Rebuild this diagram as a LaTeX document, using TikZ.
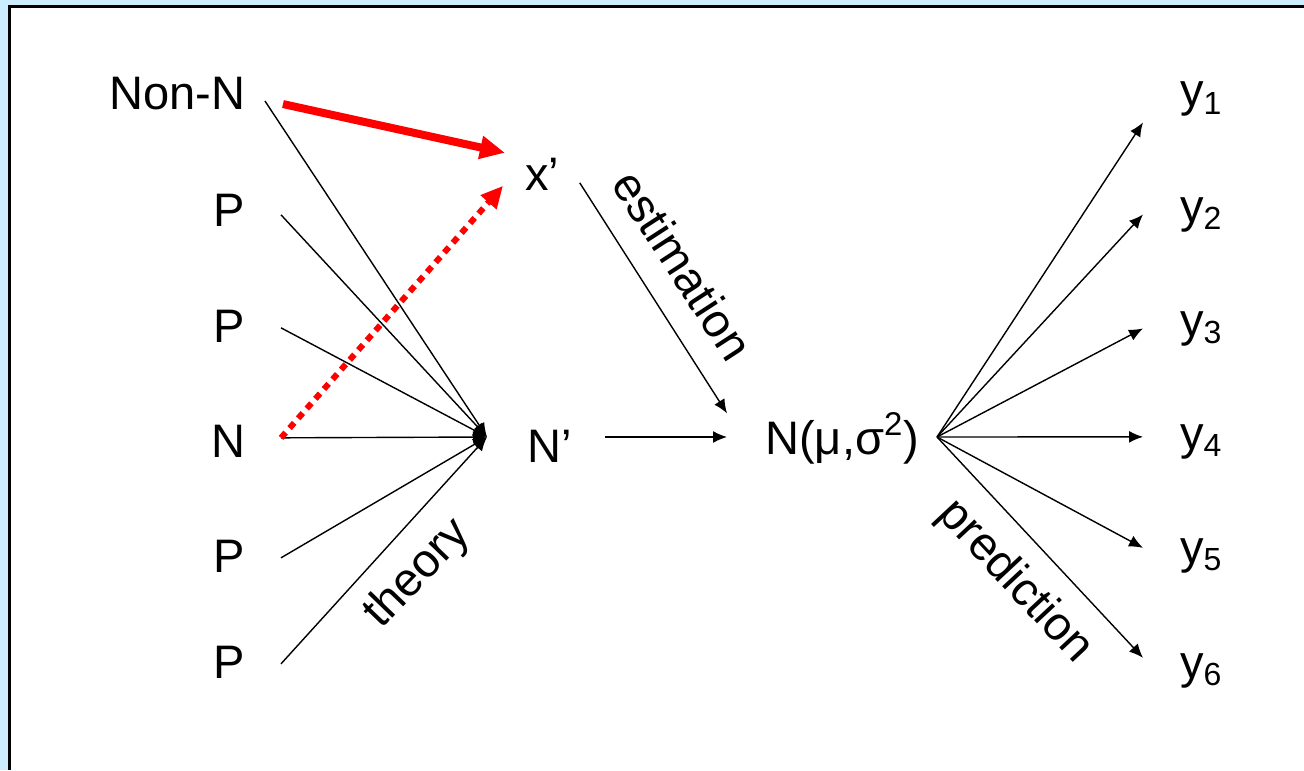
\documentclass[tikz,border=0pt]{standalone}
\usepackage{fontspec}
\setmainfont{Liberation Sans}
\usepackage{xcolor}
\usetikzlibrary{arrows.meta, positioning}

\definecolor{slidebg}{RGB}{204,236,255}
\newcommand{\ysub}[1]{y\raisebox{-0.17em}{\fontsize{16}{16}\selectfont #1}}

\begin{document}
\begin{tikzpicture}[
        x=0.5pt, y=-0.5pt,
        every node/.style={font=\fontsize{23.5}{28}\selectfont},
        src/.style={anchor=base east, inner sep=0pt, outer xsep=18pt},
        obs/.style={anchor=base west, inner sep=0pt, outer xsep=18.5pt},
        mid/.style={anchor=base west, inner sep=0pt},
        tag/.style={inner sep=0pt},
        arrow/.style={-{Latex[length=7pt,width=6pt]}, line width=0.7pt},
        redarrow/.style={-{Triangle[length=12.5pt,width=11pt]}, red, line width=4pt},
        reddots/.style={-{Triangle[length=11pt,width=10pt]}, red, line width=3pt, dash pattern=on 3.5pt off 3pt}
    ]

    % Slide frame
    \useasboundingbox (0,0) rectangle (1304,770);
    \fill[slidebg] (0,0) rectangle (1304,770);
    \fill[white] (9,7) rectangle (1304,770);
    \draw[line width=1.5pt] (9,770) -- (9,7) -- (1304,7);

    % Nodes - sources
    \node[src] (nonn) at (281,110) {Non-N};
    \node[src] (p1) at (281,227) {P};
    \node[src] (p2) at (281,342) {P};
    \node[src] (n) at (281,457) {N};
    \node[src] (p3) at (281,572) {P};
    \node[src] (p4) at (281,678) {P};
    \coordinate (hub) at (487,437);

    % Nodes - middle
    \node[mid] (xp) at (525,191) {x’};
    \node[mid] (np) at (527,462) {N’};
    \node[mid] (dist) at (765,454) {N(μ,σ\textsuperscript{2})};
    \coordinate (fan) at (937,437);

    % Nodes - outcomes
    \node[obs] (y1) at (1143,107) {\ysub{1}};
    \node[obs] (y2) at (1143,222) {\ysub{2}};
    \node[obs] (y3) at (1143,336) {\ysub{3}};
    \node[obs] (y4) at (1143,449) {\ysub{4}};
    \node[obs] (y5) at (1143,563) {\ysub{5}};
    \node[obs] (y6) at (1143,678) {\ysub{6}};

    % Labels
    \node[tag, rotate=46] (theory) at (418,574) {theory};
    \node[tag, rotate=-57] (estim) at (683,265) {estimation};
    \node[tag, rotate=-47] (pred) at (1015,582) {prediction};

    % Arrows - theory
    \draw[arrow] ([xshift=-8pt,yshift=-3.5pt]nonn.east) -- (hub);
    \draw[arrow] ([yshift=-2pt]p1.east) -- (hub);
    \draw[arrow] ([yshift=-1pt]p2.east) -- (hub);
    \draw[arrow] ([yshift=1.5pt]n.east) -- (hub);
    \draw[arrow] ([yshift=-1pt]p3.east) -- (hub);
    \draw[arrow] ([yshift=-1pt]p4.east) -- (hub);

    % Arrows - red
    \draw[redarrow] ([xshift=1pt,yshift=-5pt]nonn.east) -- ([xshift=-10pt,yshift=11pt]xp.west);
    \draw[reddots] ([yshift=1.5pt]n.east) -- ([xshift=-11pt,yshift=-5.5pt]xp.west);

    % Arrows - estimation
    \draw[arrow] ([xshift=10pt,yshift=-4pt]xp.east) -- ([xshift=-19pt,yshift=12.5pt]dist.west);
    \draw[arrow] ([xshift=16.5pt]np.east |- hub) -- ([xshift=-19pt]dist.west |- hub);

    % Arrows - prediction
    \draw[arrow] (fan) -- ([yshift=-11.5pt]y1.west);
    \draw[arrow] (fan) -- (y2.west);
    \draw[arrow] (fan) -- (y3.west);
    \draw[arrow] (fan) -- ([yshift=2.3pt]y4.west);
    \draw[arrow] (fan) -- ([yshift=3.8pt]y5.west);
    \draw[arrow] (fan) -- ([yshift=6.3pt]y6.west);

\end{tikzpicture}
\end{document}
